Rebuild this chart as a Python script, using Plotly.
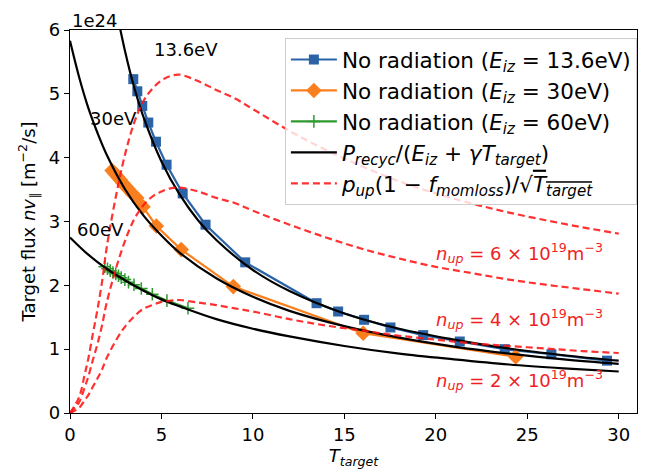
import plotly.graph_objects as go

# ---- data (flux in units of 1e24) ----
T_blue = [3.46, 3.68, 3.95, 4.28, 4.70, 5.28, 6.16, 7.41, 9.58, 13.48, 14.66, 16.08,
          17.52, 19.31, 21.31, 23.77, 26.32, 29.36]
F_blue = [5.23, 5.04, 4.81, 4.55, 4.25, 3.89, 3.44, 2.95, 2.36, 1.72, 1.59, 1.46,
          1.34, 1.22, 1.12, 1.00, 0.92, 0.82]

T_orange = [2.30, 2.45, 2.60, 2.75, 2.90, 3.05, 3.20, 3.40, 3.65, 3.99, 4.72, 6.08,
            8.93, 16.03, 24.37]
F_orange = [3.80, 3.75, 3.70, 3.65, 3.60, 3.55, 3.50, 3.44, 3.37, 3.23, 2.93, 2.56,
            1.98, 1.25, 0.88]

T_green = [1.9, 2.05, 2.2, 2.35, 2.5, 2.65, 2.8, 3.0, 3.2, 3.5, 3.9, 4.5, 5.3, 6.45]
F_green = [2.29, 2.26, 2.23, 2.20, 2.18, 2.15, 2.12, 2.09, 2.05, 2.01, 1.95, 1.86, 1.76, 1.64]

T_rec136 = [2.6, 3, 3.5, 4, 5, 6, 7, 8, 10, 12, 15, 18, 21, 24, 27, 30]
F_rec136 = [6.22, 5.68, 5.11, 4.65, 3.94, 3.42, 3.02, 2.71, 2.24, 1.91, 1.56, 1.32,
            1.15, 1.01, 0.905, 0.819]

T_rec30 = [0, 0.5, 1, 1.5, 2, 3, 4, 5, 6, 8, 10, 12, 15, 18, 21, 24, 27, 30]
F_rec30 = [5.83, 5.26, 4.78, 4.39, 4.05, 3.51, 3.10, 2.78, 2.51, 2.11, 1.82, 1.60,
           1.36, 1.18, 1.04, 0.93, 0.84, 0.77]

T_rec60 = [0, 1, 2, 3, 4, 5, 6, 8, 10, 12, 15, 18, 21, 24, 27, 30]
F_rec60 = [2.75, 2.48, 2.26, 2.08, 1.92, 1.78, 1.67, 1.47, 1.32, 1.20, 1.05, 0.93,
           0.84, 0.76, 0.70, 0.65]

T_pup = [0, 0.5, 0.8, 1.0, 1.25, 1.5, 1.75, 2.0, 2.5, 3.0, 3.5, 4.0, 4.5, 5.0, 5.5,
         6.0, 7, 8, 9, 10, 12, 14, 16, 18, 20, 22, 24, 26, 28, 30]
F_pup6 = [0, 0.25, 0.60, 0.85, 1.24, 1.62, 2.05, 2.58, 3.38, 4.04, 4.54, 4.88, 5.08,
          5.21, 5.28, 5.30, 5.20, 5.06, 4.93, 4.76, 4.42, 4.12, 3.86, 3.63, 3.44,
          3.28, 3.14, 3.02, 2.91, 2.81]
F_pup4 = [0, 0.17, 0.40, 0.57, 0.83, 1.08, 1.37, 1.72, 2.25, 2.69, 3.03, 3.25, 3.39,
          3.47, 3.52, 3.53, 3.47, 3.37, 3.29, 3.17, 2.95, 2.75, 2.57, 2.42, 2.29,
          2.19, 2.09, 2.01, 1.94, 1.87]
F_pup2 = [0, 0.08, 0.20, 0.28, 0.41, 0.54, 0.68, 0.86, 1.13, 1.35, 1.51, 1.63, 1.69,
          1.74, 1.76, 1.77, 1.73, 1.69, 1.64, 1.59, 1.47, 1.37, 1.29, 1.21, 1.15,
          1.09, 1.05, 1.01, 0.97, 0.94]

E_labels = ["13.6eV", "30eV", "60eV"]
E_label_pos = [(4.5, 5.69), (1.0, 4.62), (0.25, 2.88)]
n_labels = ["6", "4", "2"]
n_label_pos = [(19.9, 2.50), (19.9, 1.48), (19.9, 0.52)]

BLUE = "#2b63a6"
ORANGE = "#f97f1e"
GREEN = "#2f9a2f"
RED = "rgba(255,20,20,0.88)"
FONT = "DejaVu Sans"
FS = 18      # ticks, labels
FL = 21.5    # legend
EQ = " = "

fig = go.Figure()

fig.add_trace(go.Scatter(x=T_blue, y=F_blue, mode="lines+markers", legendgroup="b",
                         line=dict(color=BLUE, width=2.2),
                         marker=dict(symbol="square", size=10, color=BLUE),
                         name="No radiation (<i>E<sub>iz</sub></i>" + EQ + "13.6eV)"))
fig.add_trace(go.Scatter(x=T_orange, y=F_orange, mode="lines+markers", legendgroup="o",
                         line=dict(color=ORANGE, width=2.2),
                         marker=dict(symbol="diamond", size=12, color=ORANGE),
                         name="No radiation (<i>E<sub>iz</sub></i>" + EQ + "30eV)"))
fig.add_trace(go.Scatter(x=T_green, y=F_green, mode="lines+markers", legendgroup="g",
                         line=dict(color=GREEN, width=2.2),
                         marker=dict(symbol="cross-thin", size=9,
                                     line=dict(color=GREEN, width=1.5)),
                         name="No radiation (<i>E<sub>iz</sub></i>" + EQ + "60eV)"))

for i, (tx, fy) in enumerate([(T_rec136, F_rec136), (T_rec30, F_rec30), (T_rec60, F_rec60)]):
    fig.add_trace(go.Scatter(x=tx, y=fy, mode="lines",
                             line=dict(color="black", width=2.2, shape="spline"),
                             showlegend=(i == 0), legendgroup="rec",
                             name="<i>P<sub>recyc</sub></i>/(<i>E<sub>iz</sub></i> + <i>γT<sub>target</sub></i>)"))

for i, fy in enumerate([F_pup6, F_pup4, F_pup2]):
    fig.add_trace(go.Scatter(x=T_pup, y=fy, mode="lines",
                             line=dict(color=RED, width=2.2, dash="7px,4px", shape="spline"),
                             showlegend=(i == 0), legendgroup="pup",
                             name="<i>p<sub>up</sub></i>(1 − <i>f<sub>momloss</sub></i>)/√<span style='text-decoration:overline'><i>T<sub>target</sub></i></span>"))

annotations = []
for lab, (x, y) in zip(E_labels, E_label_pos):
    annotations.append(dict(x=x, y=y, xref="x", yref="y", text=lab, showarrow=False,
                            xanchor="left", yanchor="middle",
                            font=dict(size=FS, color="black", family=FONT)))
for lab, (x, y) in zip(n_labels, n_label_pos):
    annotations.append(dict(x=x, y=y, xref="x", yref="y",
                            text="<i>n<sub>up</sub></i> = " + lab + " × 10<sup>19</sup>m<sup>−3</sup>",
                            showarrow=False, xanchor="left", yanchor="middle",
                            font=dict(size=FS, color="rgb(240,30,35)", family=FONT)))
annotations.append(dict(x=0, y=1, xref="paper", yref="paper", text="1e24", showarrow=False,
                        xanchor="left", yanchor="bottom", yshift=-3,
                        font=dict(size=FS, color="black", family=FONT)))

axis_common = dict(showline=True, linecolor="black", linewidth=1.3, mirror=True,
                   ticks="outside", ticklen=5, tickwidth=1.3, tickcolor="black",
                   showgrid=False, zeroline=False,
                   tickfont=dict(size=FS, color="black", family=FONT))

fig.update_layout(
    width=654, height=473,
    margin=dict(l=70, r=17, t=30, b=60, autoexpand=False),
    plot_bgcolor="white", paper_bgcolor="white",
    font=dict(family=FONT, size=FS, color="black"),
    xaxis=dict(range=[0, 31], tickvals=[0, 5, 10, 15, 20, 25, 30],
               title=dict(text="<i>T<sub>target</sub></i>", standoff=2,
                          font=dict(size=FS, family=FONT)),
               **axis_common),
    yaxis=dict(range=[0, 6], tickvals=[0, 1, 2, 3, 4, 5, 6],
               title=dict(text="Target flux <i>nv</i><sub>∥</sub> [m<sup>−2</sup>/s]", standoff=8,
                          font=dict(size=FS, family=FONT)),
               **axis_common),
    legend=dict(x=0.379, y=0.979, xanchor="left", yanchor="top",
                bgcolor="rgba(255,255,255,0.8)", bordercolor="#cccccc", borderwidth=1,
                font=dict(size=FL, family=FONT, color="black"),
                itemwidth=46, tracegroupgap=0),
    annotations=annotations,
)

fig.write_html("out.html")
